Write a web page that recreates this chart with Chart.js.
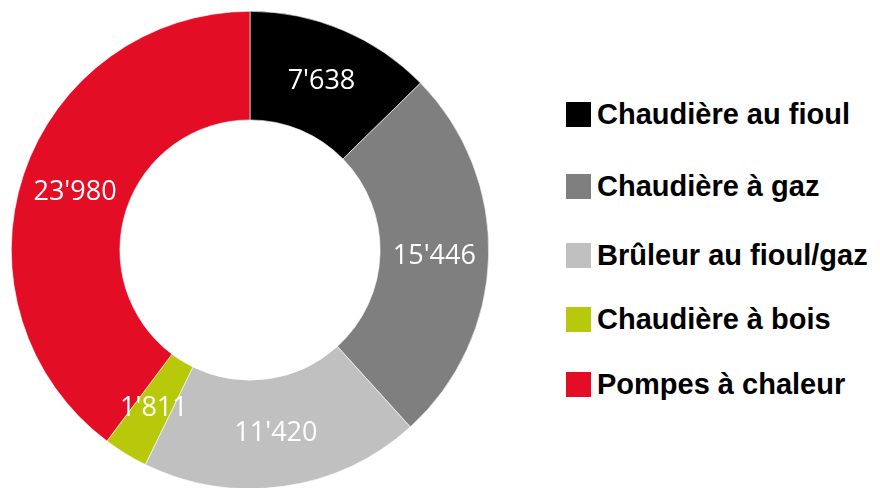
<!DOCTYPE html>
<html>
<head>
<meta charset="utf-8">
<script src="https://cdn.jsdelivr.net/npm/chart.js@4/dist/chart.umd.min.js"></script>
<style>
  html, body { margin: 0; padding: 0; background: #ffffff; width: 880px; height: 488px; overflow: hidden; }
  #wrap { position: absolute; left: 11px; top: 11px; width: 478px; height: 478px; }
  #legend { position: absolute; left: 566px; top: 0; }
  .item { position: absolute; left: 0; white-space: nowrap; display: flex; align-items: center;
          font-family: "Liberation Sans", Arial, sans-serif; font-weight: bold; font-size: 29px; color: #000; }
  .sw { width: 25px; height: 25px; margin-right: 6px; }
</style>
</head>
<body>
<div id="wrap"><canvas id="c"></canvas></div>
<div id="legend"></div>
<script>
const categories = ["Chaudière au fioul", "Chaudière à gaz", "Brûleur au fioul/gaz", "Chaudière à bois", "Pompes à chaleur"];
const values = [7638, 15446, 11420, 1811, 23980];
const valueLabels = ["7'638", "15'446", "11'420", "1'811", "23'980"];
const colors = ["#000000", "#7f7f7f", "#c0c0c0", "#b7c90a", "#e30d25"];

const legend = document.getElementById('legend');
const legendTops = [98, 170, 239, 303, 368];
categories.forEach((name, i) => {
  const d = document.createElement('div');
  d.className = 'item';
  d.style.top = legendTops[i] + 'px';
  d.innerHTML = '<span class="sw" style="background:' + colors[i] + '"></span><span></span>';
  d.lastChild.textContent = name;
  legend.appendChild(d);
});

const labelPlugin = {
  id: 'valueLabels',
  afterDatasetsDraw(chart) {
    const ctx = chart.ctx;
    const meta = chart.getDatasetMeta(0);
    ctx.save();
    ctx.font = '27px "Open Sans", sans-serif';
    ctx.fillStyle = '#ffffff';
    ctx.textAlign = 'center';
    ctx.textBaseline = 'middle';
    meta.data.forEach((arc, i) => {
      const p = arc.tooltipPosition();
      ctx.fillText(valueLabels[i], p.x, p.y + 1);
    });
    ctx.restore();
  }
};

new Chart(document.getElementById('c'), {
  type: 'doughnut',
  data: {
    labels: categories,
    datasets: [{
      data: values,
      backgroundColor: colors,
      borderColor: '#ffffff',
      borderWidth: 0.6
    }]
  },
  options: {
    responsive: true,
    maintainAspectRatio: false,
    animation: false,
    cutout: '54.5%',
    layout: { padding: 0 },
    plugins: { legend: { display: false }, tooltip: { enabled: false } }
  },
  plugins: [labelPlugin]
});
</script>
</body>
</html>
